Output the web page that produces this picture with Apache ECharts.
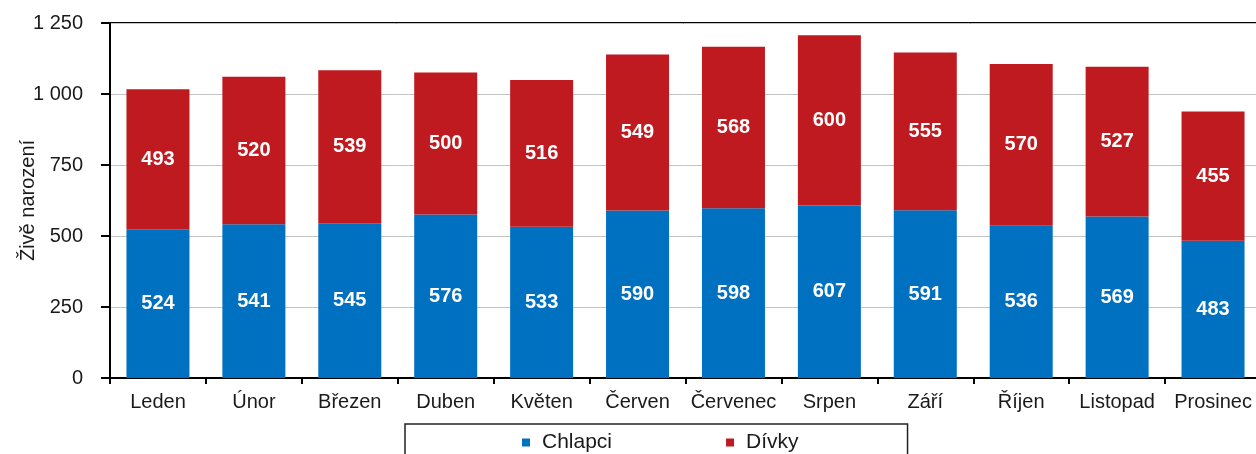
<!DOCTYPE html>
<html>
<head>
<meta charset="utf-8">
<title>Živě narození</title>
<script src="https://cdn.jsdelivr.net/npm/echarts@6.0.0/dist/echarts.min.js"></script>
<style>
  html, body { margin: 0; padding: 0; background: #fff; }
  #chart { width: 1256px; height: 454px; }
</style>
</head>
<body>
<div id="chart"></div>
<script>
// data
const months = ['Leden', 'Únor', 'Březen', 'Duben', 'Květen', 'Červen', 'Červenec', 'Srpen', 'Září', 'Říjen', 'Listopad', 'Prosinec']
const chlapci = [524, 541, 545, 576, 533, 590, 598, 607, 591, 536, 569, 483]
const divky = [493, 520, 539, 500, 516, 549, 568, 600, 555, 570, 527, 455]

const font = '"Liberation Sans", Arial, sans-serif'
const textColor = '#1a1a1a'

// 1250 -> "1 250"
function fmt(v) {
  return String(v).replace(/\B(?=(\d{3})+(?!\d))/g, ' ')
}

const myChart = echarts.init(document.getElementById('chart'))

let option = {
  animation: false,
  textStyle: { fontFamily: font },
  grid: {
    left: 110,
    top: 23,
    width: 1151,
    height: 355,
    outerBoundsMode: 'none',
    show: true,
    borderColor: '#000',
    borderWidth: 2
  },
  legend: {
    left: 405,
    top: 424,
    padding: [8, 109, 30, 117],
    borderColor: '#222',
    borderWidth: 1.5,
    itemGap: 114,
    itemWidth: 8,
    itemHeight: 8,
    icon: 'rect',
    textStyle: {
      fontSize: 21,
      color: textColor,
      fontFamily: font,
      padding: [0, 0, 0, 7]
    },
    data: ['Chlapci', 'Dívky']
  },
  xAxis: {
    type: 'category',
    data: months,
    axisLine: { lineStyle: { color: '#000', width: 2 } },
    axisTick: { show: true, length: 6, lineStyle: { color: '#000', width: 2 } },
    axisLabel: { fontSize: 20, color: textColor, margin: 14, interval: 0 }
  },
  yAxis: {
    type: 'value',
    min: 0,
    max: 1250,
    interval: 250,
    name: 'Živě narození',
    nameLocation: 'middle',
    nameGap: 72,
    nameMoveOverlap: false,
    nameTextStyle: { fontSize: 20, color: textColor },
    axisLine: { show: true, lineStyle: { color: '#000', width: 2 } },
    axisTick: { show: true, length: 9, lineStyle: { color: '#000', width: 2 } },
    axisLabel: { fontSize: 20, color: textColor, margin: 27, formatter: fmt },
    splitLine: { lineStyle: { color: '#c4c4c4', width: 1 } }
  },
  series: [
    {
      name: 'Chlapci',
      type: 'bar',
      stack: 'total',
      data: chlapci,
      barWidth: 63,
      itemStyle: { color: '#0070c0' },
      label: {
        show: true,
        position: 'inside',
        color: '#fff',
        fontWeight: 'bold',
        fontSize: 20
      }
    },
    {
      name: 'Dívky',
      type: 'bar',
      stack: 'total',
      data: divky,
      barWidth: 63,
      itemStyle: { color: '#be1a20' },
      label: {
        show: true,
        position: 'inside',
        color: '#fff',
        fontWeight: 'bold',
        fontSize: 20
      }
    }
  ]
}

myChart.setOption(option)
</script>
</body>
</html>
